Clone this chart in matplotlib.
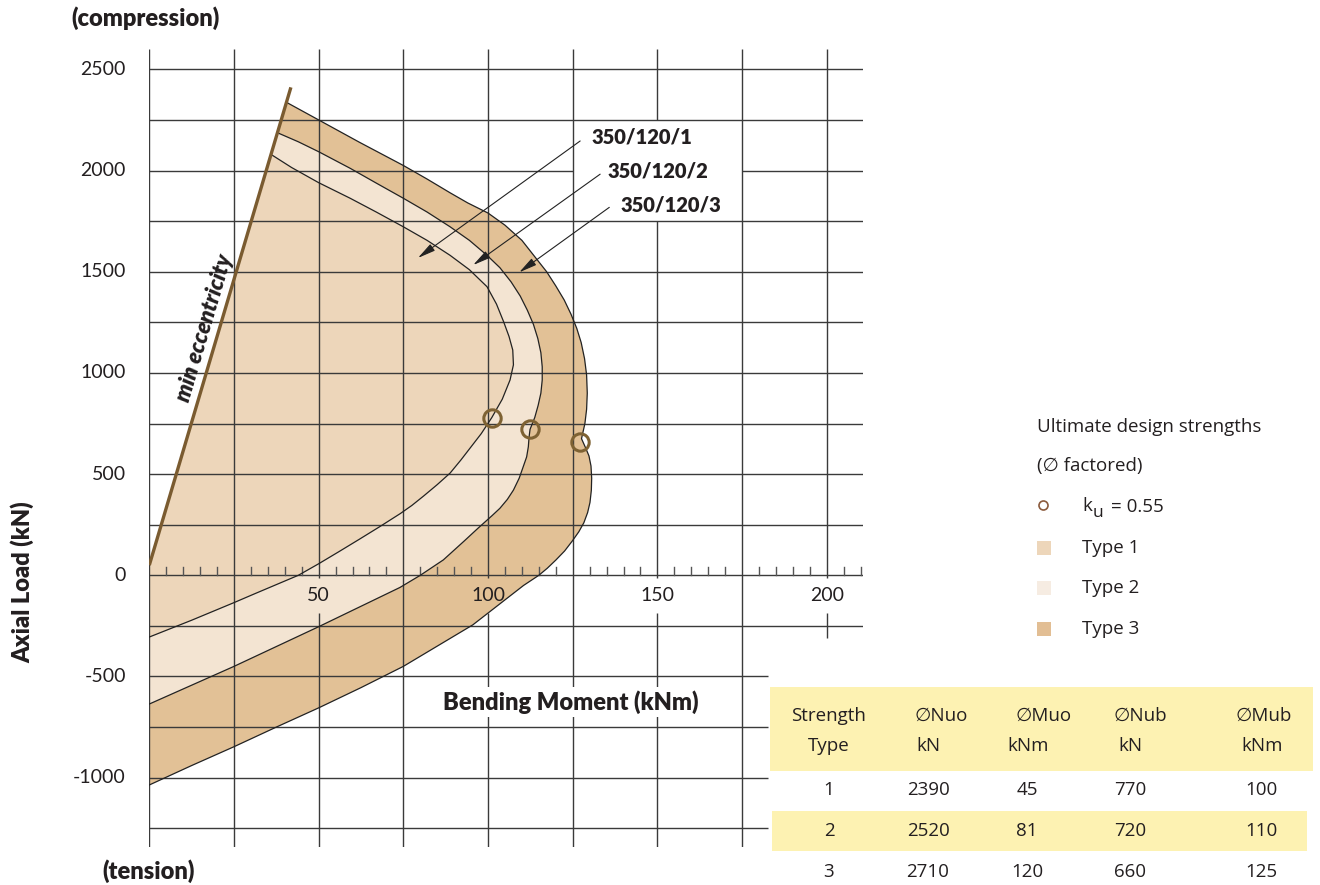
import matplotlib.pyplot as plt
from matplotlib.patches import Polygon, Rectangle
from matplotlib.lines import Line2D

# ---- data (moment kNm, axial load kN) ----
ecc_m = [0, 41.8]
ecc_n = [50, 2411]

type1_m = [35.9, 42, 50, 59.3, 67, 75, 82, 88.8, 94.5, 99.7, 102.5, 104.6, 106.2, 107.3, 107.5, 106.5,
           104.2, 101.1, 98, 95, 92, 88.8, 85, 81, 77.5, 74.1, 68, 62, 56, 50, 44, 37.5, 31, 25, 12.5, 0]
type1_n = [2080, 2015, 1940, 1863, 1795, 1722, 1655, 1581, 1510, 1426, 1340, 1253, 1180, 1113, 1040, 965,
           870, 779, 700, 635, 570, 505, 448, 392, 345, 305, 240, 178, 117, 57, 0, -46, -92, -135, -222, -305]

type2_m = [37.8, 44, 50, 59.3, 67, 75, 82, 88.8, 94.5, 99.7, 103.5, 106.8, 109.5, 111.6, 113.4, 114.7,
           115.6, 116, 116, 115.6, 114.8, 113.8, 112.4, 112.1, 111.9, 111.4, 110.4, 109.2, 107.5, 105.7,
           103.5, 101.2, 97, 93, 86.8, 80, 74, 62, 50, 37.5, 25, 12.5, 0]
type2_n = [2187, 2142, 2093, 2011, 1938, 1863, 1795, 1722, 1655, 1581, 1520, 1450, 1380, 1310, 1240, 1170,
           1100, 1030, 965, 900, 840, 780, 721, 680, 635, 585, 537, 480, 421, 375,
           331, 295, 232, 170, 76, 0, -60, -157, -254, -352, -450, -543, -636]

type3_m = [40.5, 50, 62, 75, 82, 88.8, 94, 100, 105, 110, 114, 117.3, 120, 122.5, 124.5, 126.2, 127.5,
           128.5, 129.1, 129.3, 129.1, 128.6, 127.6, 128.8, 129.8, 130.4, 130.6, 130.5, 130.1, 129.4,
           128.3, 126.8, 124.9, 122.6, 120, 117.5, 115, 110.5, 105.5, 100.5, 95.5, 90, 85, 80, 75,
           62.5, 50, 37.5, 25, 12.5, 0]
type3_n = [2337, 2250, 2140, 2025, 1958, 1890, 1840, 1790, 1730, 1655, 1570, 1500, 1430, 1360, 1290, 1220, 1150,
           1070, 990, 900, 820, 750, 675, 630, 590, 540, 480, 420, 360, 310,
           260, 215, 170, 120, 75, 35, 0, -50, -115, -180, -245, -300, -350, -400, -450,
           -555, -655, -750, -847, -940, -1036]

ku_m = [101.1, 112.4, 127.2]
ku_n = [779, 721, 660]

curve_names = ['350/120/1', '350/120/2', '350/120/3']
x_ticks = [50, 100, 150, 200]
y_ticks = [2500, 2000, 1500, 1000, 500, 0, -500, -1000]

# table
col_head1 = ['Strength', '\u2205Nuo', '\u2205Muo', '\u2205Nub', '\u2205Mub']
col_head2 = ['Type', 'kN', 'kNm', 'kN', 'kNm']
strength_type = ['1', '2', '3']
nuo = [2390, 2520, 2710]
muo = [45, 81, 120]
nub = [770, 720, 660]
mub = [100, 110, 125]

C1 = '#EDD6BA'
C2 = '#F3E4D2'
C3 = '#E2C196'
BROWN = '#7A5B30'
GRID = '#3a3a3a'
YEL = '#FDF2B2'
TXT = '#231f20'
CHART_FONT = 'Lato'
SIDE_FONT = ['Open Sans', 'DejaVu Sans']

W, H = 1320, 885
fig = plt.figure(figsize=(W / 100, H / 100), dpi=100)
ax = fig.add_axes([149.3 / W, 1 - 846.5 / H, 713.7 / W, 797.4 / H])
ax.set_xlim(0, 210.7)
ax.set_ylim(-1340, 2600)
ax.axis('off')


def P(x, y):
    return x / W, 1 - y / H


# fills, outermost first
for m, n, c in [(type3_m, type3_n, C3), (type2_m, type2_n, C2), (type1_m, type1_n, C1)]:
    pts = [(ecc_m[0], ecc_n[0])] + list(zip(m, n))
    ax.add_patch(Polygon(pts, closed=True, fc=c, ec='none', zorder=1))

# grid, drawn by hand because of the gaps under labels
def seg(xs, ys):
    ax.plot(xs, ys, color=GRID, lw=1.0, zorder=2, solid_capstyle='butt')

for x in range(0, 201, 25):
    if x in (50, 100):
        spans = [(-1340, -186), (-13, 2600)]
    elif x == 150:
        spans = [(-1340, -186), (-13, 1750), (2250, 2600)]
    elif x == 200:
        spans = [(-310, -186), (-13, 2600)]
    else:
        spans = [(-1340, 2600)]
    for y0, y1 in spans:
        seg([x, x], [y0, y1])

for y in range(-1250, 2501, 250):
    if y == 2000:
        spans = [(0, 125), (175, 210.7)]
    elif y <= -500:
        spans = [(0, 182.7)]
    else:
        spans = [(0, 210.7)]
    for x0, x1 in spans:
        seg([x0, x1], [y, y])

# minor ticks on the moment axis
for t in range(5, 211, 5):
    if t % 25:
        ax.plot([t, t], [0, 40], color='#555555', lw=1.0, zorder=2)

# curves
for m, n in [(type1_m, type1_n), (type2_m, type2_n), (type3_m, type3_n)]:
    ax.plot(m, n, color='#222222', lw=0.9, zorder=3, solid_joinstyle='round')

ax.plot(ecc_m, ecc_n, color=BROWN, lw=2.4, zorder=4, solid_capstyle='butt')
ax.plot(ku_m, ku_n, 'o', ms=12.5, mfc='none', mec='#7E6233', mew=2.2, zorder=5)

# tick labels
for t in x_ticks:
    ax.text(t, -100, str(t), ha='center', va='center', fontsize=14,
            family=CHART_FONT, color=TXT, zorder=6)
for v in y_ticks:
    ax.text(-6.9, v, str(v), ha='right', va='center', fontsize=14,
            family=CHART_FONT, color=TXT, clip_on=False)

# curve labels with leader arrows
label_pos = [(130.6, 2166), (135.4, 1998), (139.0, 1830)]
arrow_tail = [(127.2, 2146), (133.1, 1982), (135.8, 1818)]
arrow_tip = [(79.3, 1568), (95.6, 1533), (109.2, 1497)]
for name, lp, tail, tip in zip(curve_names, label_pos, arrow_tail, arrow_tip):
    ax.text(lp[0], lp[1], name, ha='left', va='center', fontsize=14.5,
            fontweight='heavy', family=CHART_FONT, color=TXT, zorder=6)
    ax.annotate('', xy=tip, xytext=tail, zorder=6,
                arrowprops=dict(arrowstyle='-|>,head_length=0.9,head_width=0.2',
                                color='#222222', lw=0.8, shrinkA=0, shrinkB=0,
                                mutation_scale=12))

ax.text(16.2, 1221, 'min eccentricity', rotation=73.5, rotation_mode='anchor',
        ha='center', va='center', fontsize=16, fontweight='heavy',
        fontstyle='italic', family=CHART_FONT, color=TXT, zorder=6)

ax.text(124.5, -626, 'Bending Moment (kNm)', ha='center', va='center',
        fontsize=17, fontweight='heavy', family=CHART_FONT, color=TXT, zorder=6,
        bbox=dict(fc='white', ec='none', pad=2))

fig.text(*P(146, 18), '(compression)', ha='center', va='center', fontsize=17,
         fontweight='heavy', family=CHART_FONT, color=TXT)
fig.text(*P(149, 871), '(tension)', ha='center', va='center', fontsize=17,
         fontweight='heavy', family=CHART_FONT, color=TXT)
fig.text(*P(22, 582), 'Axial Load (kN)', ha='center', va='center', fontsize=17,
         fontweight='heavy', family=CHART_FONT, color=TXT, rotation=90)

# legend
side = dict(family=SIDE_FONT, color=TXT, va='center')
fig.text(*P(1037, 427), 'Ultimate design strengths', ha='left', fontsize=13.5, **side)
fig.text(*P(1037, 466), '(\u2205 factored)', ha='left', fontsize=13.5, **side)
fig.add_artist(Line2D([1043 / W], [1 - 505 / H], transform=fig.transFigure,
                      marker='o', ms=6.5, mfc='none', mec='#8B5A3C', mew=1.2))
fig.text(*P(1082, 506), 'k', ha='left', fontsize=13.5, **side)
fig.text(*P(1093, 513), 'u', ha='left', fontsize=12.5, **side)
fig.text(*P(1111, 507), '= 0.55', ha='left', fontsize=13.5, **side)
for lab, c, y in [('Type 1', C1, 548), ('Type 2', '#F6ECE2', 588), ('Type 3', '#E2BE94', 629)]:
    fig.add_artist(Rectangle((1037 / W, 1 - (y + 7) / H), 14 / W, 14 / H,
                             transform=fig.transFigure, fc=c, ec='none'))
    fig.text(*P(1082, y), lab, ha='left', fontsize=13.5, **side)

# table
fig.add_artist(Rectangle((770 / W, 1 - 771 / H), 543 / W, 84 / H,
                         transform=fig.transFigure, fc=YEL, ec='none'))
fig.add_artist(Rectangle((772 / W, 1 - 851 / H), 535 / W, 40 / H,
                         transform=fig.transFigure, fc=YEL, ec='none'))
head1_x = [829, 941, 1044, 1140, 1264]
head2_x = [829, 928, 1028, 1130, 1262]
col_x = [829, 928, 1027, 1130, 1261]
for s, x in zip(col_head1, head1_x):
    fig.text(*P(x, 716), s, ha='center', fontsize=13.5, **side)
for s, x in zip(col_head2, head2_x):
    fig.text(*P(x, 746), s, ha='center', fontsize=13.5, **side)
for i, y in enumerate([790, 831, 872]):
    row = [strength_type[i], nuo[i], muo[i], nub[i], mub[i]]
    for v, x in zip(row, col_x):
        fig.text(*P(x, y), str(v), ha='center', fontsize=13.5, **side)

fig.savefig('out.png', dpi=100)
